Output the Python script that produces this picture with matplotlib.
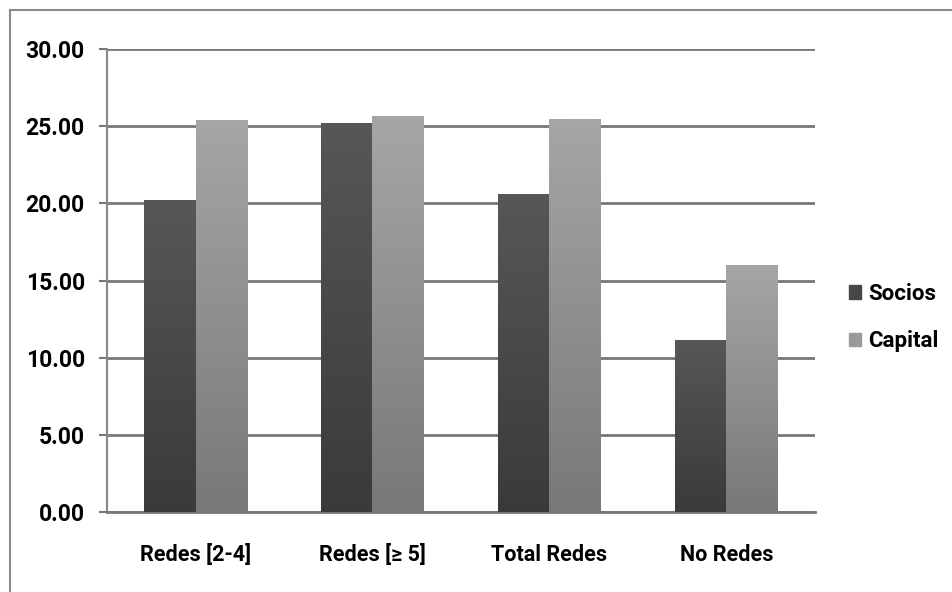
import numpy as np
import matplotlib
matplotlib.use("Agg")
import matplotlib.pyplot as plt
from matplotlib.colors import LinearSegmentedColormap
from matplotlib.lines import Line2D
from matplotlib.patches import Rectangle

# datos por tipo de red
categorias = ['Redes [2-4]', 'Redes [≥ 5]', 'Total Redes', 'No Redes']
socios = [20.2, 25.2, 20.6, 11.1]
capital = [25.35, 25.65, 25.4, 16.0]
series = ['Socios', 'Capital']

plt.rcParams['font.family'] = ['Roboto', 'DejaVu Sans']
plt.rcParams['font.weight'] = 'bold'

fig = plt.figure(figsize=(9.53, 5.92), dpi=100)
ax = fig.add_axes([0.1123, 0.1351, 0.7428, 0.7821])

# marco exterior (solo arriba e izquierda)
fig.add_artist(Line2D([0.0105, 1.0], [1 - 10 / 592, 1 - 10 / 592], color='#8a8a8a', lw=1.5))
fig.add_artist(Line2D([0.0105, 0.0105], [0, 1 - 10 / 592], color='#8a8a8a', lw=1.5))

x = np.arange(len(categorias))
w = 0.29

# degradado vertical de cada barra: claro arriba, oscuro abajo
cm_socios = LinearSegmentedColormap.from_list('s', ['#3a3a3a', '#575757'])
cm_capital = LinearSegmentedColormap.from_list('c', ['#787878', '#a6a6a6'])
grad = np.linspace(0, 1, 256).reshape(-1, 1)

for vals, off, cm, lab in [(socios, -w / 2, cm_socios, series[0]),
                           (capital, w / 2, cm_capital, series[1])]:
    bars = ax.bar(x + off, vals, w, color=cm(0.5), label=lab, zorder=3)
    for b in bars:
        x0, y1 = b.get_x(), b.get_height()
        ax.imshow(grad, cmap=cm, origin='lower', aspect='auto',
                  extent=[x0, x0 + b.get_width(), 0, y1], zorder=3.1)

ax.set_xlim(-0.5, 3.5)
ax.set_ylim(0, 30)
ax.set_yticks(np.arange(0, 31, 5))
ax.set_yticklabels([f'{v:.2f}' for v in np.arange(0, 31, 5)])
ax.set_xticks(x)
ax.set_xticklabels(categorias)
ax.yaxis.grid(True, color='#777777', lw=2)
ax.set_axisbelow(True)

for s in ['top', 'right']:
    ax.spines[s].set_visible(False)
ax.spines['left'].set_color('#888888')
ax.spines['bottom'].set_color('#777777')
ax.spines['left'].set_linewidth(1.5)
ax.spines['bottom'].set_linewidth(2)
ax.tick_params(axis='y', length=6, color='#777777', width=1.5, labelsize=16.5, pad=10)
ax.tick_params(axis='x', length=0, labelsize=15.5, pad=23)

ax.legend(handles=[Rectangle((0, 0), 1, 1, color='#474747'),
                   Rectangle((0, 0), 1, 1, color='#9a9a9a')],
          labels=series, loc='center left', bbox_to_anchor=(1.035, 0.42),
          frameon=False, fontsize=16, handlelength=0.55, handleheight=0.55,
          handletextpad=0.35, labelspacing=1.15, borderaxespad=0)

fig.savefig('out.png', dpi=100, facecolor='white')
